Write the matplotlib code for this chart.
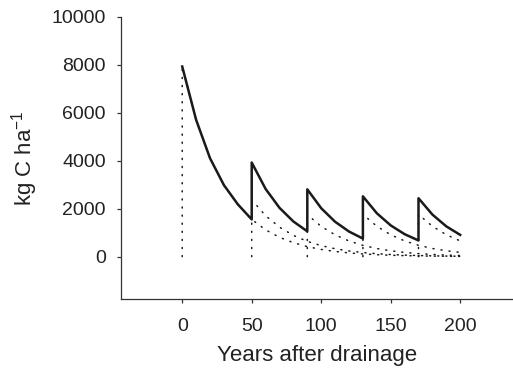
import matplotlib
matplotlib.use("Agg")
import matplotlib.pyplot as plt

# Carbon left from each litter cohort (kg C/ha), read at 10-year steps
c1_years = [0, 10, 20, 30, 40, 50, 60, 70, 80, 90, 100, 110, 120, 130, 140, 150, 160, 170, 180, 190, 200]
c1_vals = [7920, 5700, 4100, 2980, 2180, 1550, 1115, 805, 580, 418, 300, 216, 156, 112, 81, 58, 42, 30, 22, 16, 11]

c2_years = [50, 60, 70, 80, 90, 100, 110, 120, 130, 140, 150, 160, 170, 180, 190, 200]
c2_vals = [2370, 1705, 1228, 884, 636, 458, 330, 237, 171, 123, 88, 64, 46, 33, 24, 17]

c3_years = [90, 100, 110, 120, 130, 140, 150, 160, 170, 180, 190, 200]
c3_vals = [1750, 1260, 907, 653, 470, 338, 244, 175, 126, 91, 65, 47]

c4_years = [130, 140, 150, 160, 170, 180, 190, 200]
c4_vals = [1760, 1267, 912, 656, 472, 340, 245, 176]

c5_years = [170, 180, 190, 200]
c5_vals = [1760, 1267, 912, 656]

cohorts = [(c1_years, c1_vals), (c2_years, c2_vals), (c3_years, c3_vals),
           (c4_years, c4_vals), (c5_years, c5_vals)]

xticks = [0, 50, 100, 150, 200]
yticks = [0, 2000, 4000, 6000, 8000, 10000]

plt.rcParams['font.family'] = ['Liberation Sans', 'DejaVu Sans']
plt.rcParams['mathtext.default'] = 'regular'

fig = plt.figure(figsize=(5.13, 3.69), dpi=100)
ax = fig.add_axes([0.236, 0.19, 0.764, 0.765])

ink = '#1a1a1a'

# dotted cohort lines, each starting with a vertical from zero
for yrs, vals in cohorts:
    ax.plot([yrs[0]] + yrs, [0] + vals, color=ink, lw=1.1,
            linestyle=(0, (0.7, 4.6)), dash_capstyle='round')

# total (solid): sum of cohorts, with a jump at each new cohort
starts = [c[0][0] for c in cohorts]
tx, ty = [], []
for yr in c1_years:
    before = sum(v[y.index(yr)] for y, v in cohorts if yr in y and y[0] < yr)
    after = sum(v[y.index(yr)] for y, v in cohorts if yr in y)
    if yr in starts and yr > 0:
        tx.append(yr)
        ty.append(before)
    tx.append(yr)
    ty.append(after)
ax.plot(tx, ty, color=ink, lw=1.8)

ax.set_xlim(-44, 238)
ax.set_ylim(-1760, 10000)
ax.set_xticks(xticks)
ax.set_yticks(yticks)
ax.spines['top'].set_visible(False)
ax.spines['right'].set_visible(False)
for s in ['left', 'bottom']:
    ax.spines[s].set_color('#333333')
    ax.spines[s].set_linewidth(0.9)
ax.tick_params(direction='out', length=3, width=0.9, color='#333333',
               labelsize=14, labelcolor='#222222')
ax.tick_params(axis='x', pad=11)
ax.tick_params(axis='y', pad=8)

ax.set_xlabel('Years after drainage', fontsize=16, color='#222222', labelpad=7)
ax.set_ylabel('kg C ha$^{-1}$', fontsize=16, color='#222222', labelpad=8)

fig.savefig('out.png', dpi=100)
